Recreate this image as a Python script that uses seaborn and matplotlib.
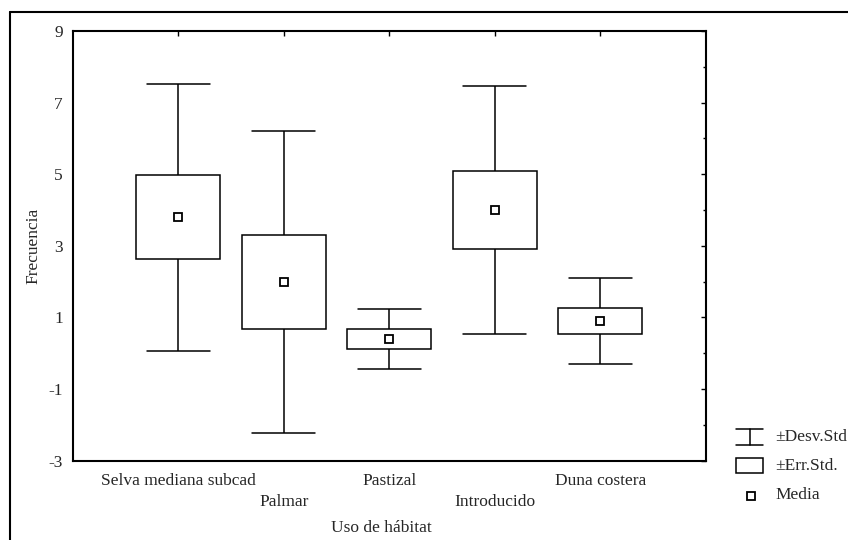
import numpy as np
import pandas as pd
import matplotlib
matplotlib.use("Agg")
import matplotlib.pyplot as plt
from matplotlib.lines import Line2D
from matplotlib.patches import Rectangle
import seaborn as sns

# Habitat-use frequencies: mean, standard error and standard deviation per habitat
habitats = ["Selva mediana subcad", "Palmar", "Pastizal", "Introducido", "Duna costera"]
means = [3.80, 1.99, 0.40, 4.00, 0.90]
std_err = [1.18, 1.32, 0.27, 1.08, 0.37]
std_dev = [3.73, 4.21, 0.84, 3.47, 1.20]

y_ticks = [9, 7, 5, 3, 1, -1, -3]
legend_labels = ["\u00b1Desv.Std", "\u00b1Err.Std.", "Media"]

# Five-number summaries (mean -/+ SD, mean -/+ SE, mean) so the box spans
# the standard error and the whiskers reach the standard deviation.
rows = []
for h, m, se, sd in zip(habitats, means, std_err, std_dev):
    for v in (m - sd, m - se, m, m + se, m + sd):
        rows.append({"habitat": h, "frecuencia": v})
df = pd.DataFrame(rows)

sns.set_theme(style="white")
plt.rcParams["font.family"] = ["Liberation Serif", "DejaVu Serif"]
FS = 12.5

fig = plt.figure(figsize=(8.48, 5.40), dpi=100)
ax = fig.add_axes([72.7 / 848, 1 - 460.7 / 540, 633 / 848, 429.7 / 540])

sns.boxplot(
    data=df, x="habitat", y="frecuencia", order=habitats,
    whis=(0, 100), width=0.8, color="white", linecolor="black",
    linewidth=1.1, saturation=1, showfliers=False, showmeans=True,
    capwidths=0.6,
    medianprops={"visible": False},
    meanprops={"marker": "s", "markerfacecolor": "white",
               "markeredgecolor": "black", "markersize": 6.3,
               "markeredgewidth": 1.3},
    ax=ax,
)

ax.set_xlim(-1, 5)
ax.set_ylim(-3, 9)
ax.set_yticks(y_ticks)
ax.set_yticklabels([str(t) for t in y_ticks], fontsize=FS)
ax.set_yticks(np.arange(-3, 10, 1), minor=True)
ax.set_xticks(range(len(habitats)))
ax.set_xticklabels([h if i % 2 == 0 else "\n" + h for i, h in enumerate(habitats)],
                   fontsize=FS, linespacing=1.4)
ax.tick_params(axis="both", which="both", direction="in", top=True, right=True,
               color="black", width=1.0)
ax.tick_params(axis="both", which="major", length=3.5, pad=7)
ax.tick_params(axis="x", which="major", pad=9)
ax.tick_params(axis="y", which="minor", length=2.2)
ax.tick_params(axis="x", which="minor", length=0)
for s in ax.spines.values():
    s.set_color("black")
    s.set_linewidth(1.5)

ax.set_xlabel("")
ax.set_ylabel("")
fig.text(381 / 848, 1 - 528 / 540, "Uso de h\u00e1bitat", fontsize=FS,
         ha="center", va="center")
fig.text(33 / 848, 1 - 246 / 540, "Frecuencia", fontsize=FS,
         rotation=90, ha="center", va="center")

# Outer frame (left and top edges)
fig.add_artist(Line2D([10 / 848, 10 / 848], [0, 1 - 12 / 540], color="black", lw=1.5))
fig.add_artist(Line2D([10 / 848, 1], [1 - 12 / 540, 1 - 12 / 540], color="black", lw=1.5))

# Legend key
def fx(px):
    return px / 848

def fy(py):
    return 1 - py / 540

x0, x1 = 736, 763
xm = (x0 + x1) / 2
fig.add_artist(Line2D([fx(x0), fx(x1)], [fy(429), fy(429)], color="black", lw=1.1))
fig.add_artist(Line2D([fx(x0), fx(x1)], [fy(445), fy(445)], color="black", lw=1.1))
fig.add_artist(Line2D([fx(xm), fx(xm)], [fy(429), fy(445)], color="black", lw=1.1))
fig.add_artist(Rectangle((fx(x0), fy(473)), fx(x1) - fx(x0), fy(458) - fy(473),
                         transform=fig.transFigure, fill=False,
                         edgecolor="black", lw=1.1))
fig.add_artist(Line2D([fx(750.7)], [fy(495.7)], marker="s", markersize=6.3,
                      markerfacecolor="white", markeredgecolor="black",
                      markeredgewidth=1.3, linestyle="none"))
for yy, lab in zip([437, 466, 495], legend_labels):
    fig.text(fx(775), fy(yy), lab, fontsize=FS, ha="left", va="center")

fig.savefig("out.png", dpi=100, facecolor="white")
